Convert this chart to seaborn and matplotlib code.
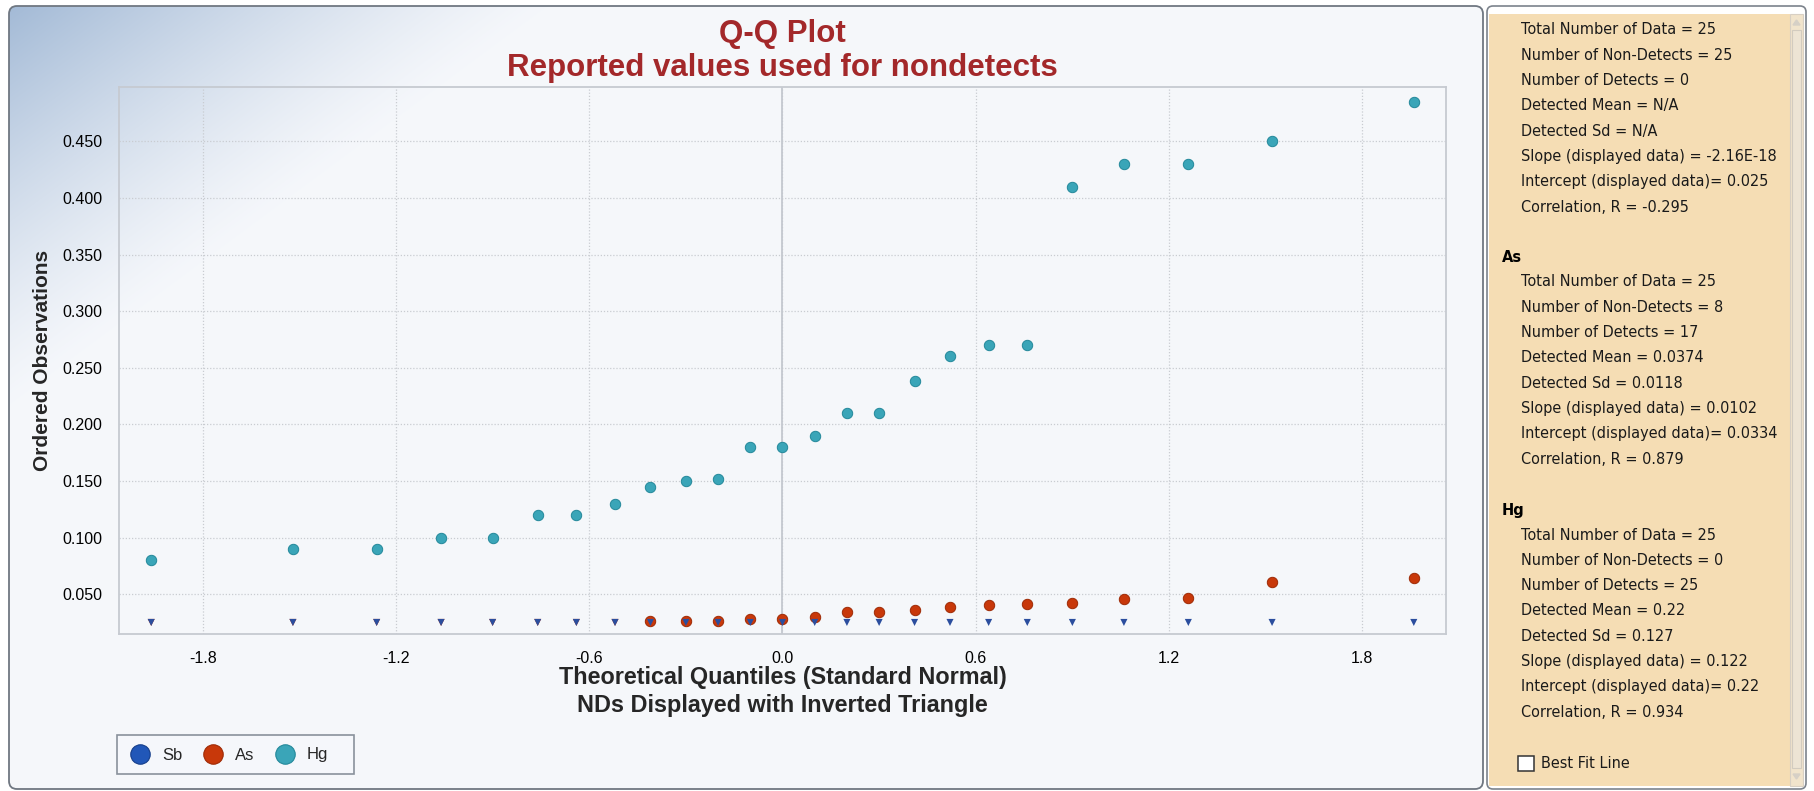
import numpy as np
import pandas as pd
import matplotlib
matplotlib.use("Agg")
import matplotlib.pyplot as plt
import seaborn as sns
from matplotlib.patches import FancyBboxPatch, Rectangle, Polygon
from matplotlib.lines import Line2D

# %%
# values
quantiles = [-1.96, -1.52, -1.26, -1.06, -0.90, -0.76, -0.64, -0.52, -0.41, -0.30,
             -0.20, -0.10, 0.00, 0.10, 0.20, 0.30, 0.41, 0.52, 0.64, 0.76,
             0.90, 1.06, 1.26, 1.52, 1.96]

hg_values = [0.080, 0.090, 0.090, 0.100, 0.100, 0.120, 0.120, 0.130, 0.145, 0.150,
             0.152, 0.180, 0.180, 0.190, 0.210, 0.210, 0.238, 0.260, 0.270, 0.270,
             0.410, 0.430, 0.430, 0.450, 0.485]

# As: 8 nondetects (first ranks) then 17 detects
as_nd_values = [0.025, 0.025, 0.025, 0.025, 0.025, 0.025, 0.025, 0.025]
as_det_values = [0.026, 0.026, 0.026, 0.028, 0.028, 0.030, 0.034, 0.034, 0.036,
                 0.039, 0.040, 0.041, 0.042, 0.046, 0.047, 0.061, 0.064]

# Sb: all 25 nondetects
sb_nd_values = [0.025, 0.025, 0.025, 0.025, 0.025, 0.025, 0.025, 0.025, 0.025, 0.025,
                0.025, 0.025, 0.025, 0.025, 0.025, 0.025, 0.025, 0.025, 0.025, 0.025,
                0.025, 0.025, 0.025, 0.025, 0.025]

x_ticks = [-1.8, -1.2, -0.6, 0.0, 0.6, 1.2, 1.8]
y_ticks = [0.05, 0.10, 0.15, 0.20, 0.25, 0.30, 0.35, 0.40, 0.45]

legend_names = ["Sb", "As", "Hg"]

stats_sb = ["Total Number of Data = 25", "Number of Non-Detects = 25", "Number of Detects = 0",
            "Detected Mean = N/A", "Detected Sd = N/A", "Slope (displayed data) = -2.16E-18",
            "Intercept (displayed data)= 0.025", "Correlation, R = -0.295"]
stats_as = ["Total Number of Data = 25", "Number of Non-Detects = 8", "Number of Detects = 17",
            "Detected Mean = 0.0374", "Detected Sd = 0.0118", "Slope (displayed data) = 0.0102",
            "Intercept (displayed data)= 0.0334", "Correlation, R = 0.879"]
stats_hg = ["Total Number of Data = 25", "Number of Non-Detects = 0", "Number of Detects = 25",
            "Detected Mean = 0.22", "Detected Sd = 0.127", "Slope (displayed data) = 0.122",
            "Intercept (displayed data)= 0.22", "Correlation, R = 0.934"]

SB_COL = "#2157B8"
SB_TRI = "#2B4E9E"
AS_COL = "#C8380A"
HG_COL = "#3AA5B8"
TITLE_COL = "#A3282A"

sns.set_style("white")
plt.rcParams['font.family'] = ['Liberation Sans', 'DejaVu Sans']

W, H = 1814, 791
fig = plt.figure(figsize=(W / 100, H / 100), dpi=100)
fig.patch.set_facecolor("white")

# %%
# background: chart panel with gradient + stats panel
bg = fig.add_axes([0, 0, 1, 1], zorder=0)
bg.set_xlim(0, W)
bg.set_ylim(H, 0)
bg.axis("off")

px0, py0, px1, py1 = 9, 6, 1483, 789
panel = FancyBboxPatch((px0, py0), px1 - px0, py1 - py0, boxstyle="round,pad=0,rounding_size=8",
                       facecolor="none", edgecolor="#6F7781", linewidth=1.3, zorder=2)
bg.add_patch(panel)
gx, gy = np.meshgrid(np.arange(px1 - px0), np.arange(py1 - py0))
t = np.clip(gx / 540 + gy / 400, 0, 1)
corner = np.array([0.64, 0.73, 0.84])
base = np.array([0.961, 0.969, 0.984])
f = (1 - t[..., None]) ** 1.25
img = corner[None, None, :] * f + base[None, None, :] * (1 - f)
im = bg.imshow(img, extent=(px0, px1, py1, py0), aspect="auto", zorder=1)
im.set_clip_path(panel)

# legend frame
bg.add_patch(Rectangle((117, 735), 354 - 117, 774 - 735, facecolor="#F5F7FB",
                       edgecolor="#8A929C", lw=1.2, zorder=3))

# stats panel frame
frame = FancyBboxPatch((1487, 6), 1806 - 1487, 789 - 6, boxstyle="round,pad=0,rounding_size=6",
                       facecolor="white", edgecolor="#7C838C", linewidth=1.2, zorder=1)
bg.add_patch(frame)
bg.add_patch(Rectangle((1489, 14), 1790 - 1489, 786 - 14, facecolor="#F5DDB4", edgecolor="none", zorder=2))
bg.add_patch(Rectangle((1790, 14), 1803 - 1790, 786 - 14, facecolor="#F1E4CC", edgecolor="#D8D0C4", lw=0.8, zorder=2))
bg.add_patch(Rectangle((1792, 30), 1801 - 1792, 768 - 30, facecolor="#EDE4D4", edgecolor="#D2CBBF", lw=0.8, zorder=3))
bg.add_patch(Polygon([[1793, 25], [1800, 25], [1796.5, 20]], closed=True, color="#D6D0C6", zorder=3))
bg.add_patch(Polygon([[1793, 774], [1800, 774], [1796.5, 779]], closed=True, color="#D6D0C6", zorder=3))
bg.set_xlim(0, W)
bg.set_ylim(H, 0)

txt_kw = dict(fontsize=10.45, color="#1A1A1A", va="center", ha="left", family=["DejaVu Sans"], zorder=4)
y = 30
for s in stats_sb:
    bg.text(1521, y, s, **txt_kw)
    y += 25.3
bg.text(1502, 257, "As", fontsize=10.5, fontweight="bold", color="black", va="center", family=["DejaVu Sans"], zorder=4)
y = 282
for s in stats_as:
    bg.text(1521, y, s, **txt_kw)
    y += 25.3
bg.text(1502, 511, "Hg", fontsize=10.5, fontweight="bold", color="black", va="center", family=["DejaVu Sans"], zorder=4)
y = 535
for s in stats_hg:
    bg.text(1521, y, s, **txt_kw)
    y += 25.3
bg.add_patch(Rectangle((1518, 756), 16, 15, facecolor="white", edgecolor="#333333", lw=1.1, zorder=4))
bg.text(1541, 764, "Best Fit Line", **txt_kw)

# %%
# main plot
ax = fig.add_axes([119 / W, 1 - 634 / H, (1446 - 119) / W, (634 - 87) / H], zorder=2)
ax.set_facecolor("none")

sns.scatterplot(x=quantiles, y=hg_values, ax=ax, color=HG_COL, s=56, edgecolor="#23889A",
                linewidth=0.7, zorder=4, legend=False)
sns.scatterplot(x=quantiles[:8], y=as_nd_values, ax=ax, color=AS_COL, marker="v", s=26,
                edgecolor="none", zorder=3, legend=False)
sns.scatterplot(x=quantiles[8:], y=as_det_values, ax=ax, color=AS_COL, s=56, edgecolor="#9E2A05",
                linewidth=0.7, zorder=4, legend=False)
sns.scatterplot(x=quantiles, y=sb_nd_values, ax=ax, color=SB_TRI, marker="v", s=26,
                edgecolor="none", zorder=5, legend=False)

ax.set_xlim(-2.06, 2.06)
ax.set_ylim(0.0148, 0.498)
ax.set_xticks(x_ticks)
ax.set_xticklabels([f"{v:.1f}" for v in x_ticks])
ax.set_yticks(y_ticks)
ax.set_yticklabels([f"{v:.3f}" for v in y_ticks])
ax.tick_params(axis="both", length=0, labelsize=11.5, labelcolor="black")
ax.tick_params(axis="x", length=3, width=0.8, color="#CDD0D5", pad=9.5)
ax.tick_params(axis="y", pad=12)
ax.grid(True, linestyle=(0, (1, 1.5)), color="#C9CCD1", linewidth=0.9, zorder=0)
ax.axvline(0, color="#C4C8CF", linewidth=1.3, zorder=1)
for sp in ax.spines.values():
    sp.set_color("#C6CAD1")
    sp.set_linewidth(1.3)

ax.set_xlabel("Theoretical Quantiles (Standard Normal)\nNDs Displayed with Inverted Triangle",
              fontsize=16.8, fontweight="bold", labelpad=0, linespacing=1.28)
ax.set_ylabel("Ordered Observations", fontsize=15, fontweight="bold", labelpad=7)

fig.text(782 / W, 1 - 34 / H, "Q-Q Plot", ha="center", va="center", fontsize=22.5,
         fontweight="bold", color=TITLE_COL)
fig.text(782 / W, 1 - 68 / H, "Reported values used for nondetects", ha="center", va="center",
         fontsize=22.5, fontweight="bold", color=TITLE_COL)

handles = [Line2D([0], [0], marker="o", linestyle="", markersize=14, markerfacecolor=c,
                  markeredgecolor=e, markeredgewidth=0.8)
           for c, e in [(SB_COL, "#153E8A"), (AS_COL, "#9E2A05"), (HG_COL, "#23889A")]]
leg = fig.legend(handles, legend_names, loc="center left", bbox_to_anchor=(127 / W, 1 - 755 / H),
                 ncol=3, frameon=False, fontsize=12, handletextpad=0.5, columnspacing=1.06,
                 borderpad=0, borderaxespad=0, handlelength=1.6)

fig.savefig("out.png", dpi=100)
